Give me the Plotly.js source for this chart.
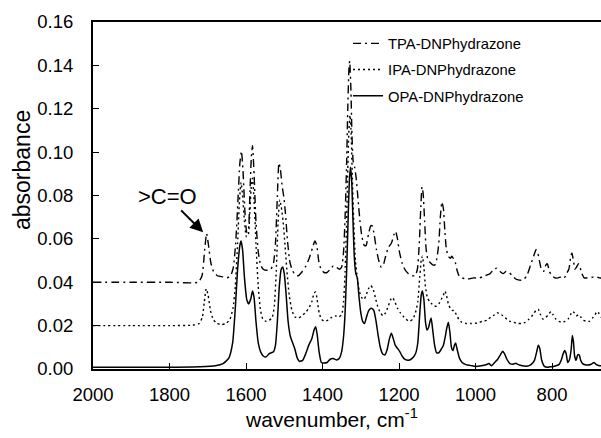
<!DOCTYPE html>
<html>
<head>
<meta charset="utf-8">
<script src="https://cdn.plot.ly/plotly-3.0.1.min.js"></script>
<style>
  html, body { margin: 0; padding: 0; background: #ffffff; }
  #chart { width: 601px; height: 438px; }
</style>
</head>
<body>
<div id="chart"></div>
<script>
// ---- Data (wavenumber, cm-1 ; absorbance) ----
const seriesNames = ["TPA-DNPhydrazone", "IPA-DNPhydrazone", "OPA-DNPhydrazone"];

const tpaX = [2000,1900,1800,1725,1715,1708,1703,1698,1692,1685,1675,1660,1650,1640,1633,1627,1621,1616,1612,1608,1603,1598,1594,1590,1586,1583,1579,1574,1568,1562,1555,1545,1535,1528,1523,1518,1514,1510,1506,1501,1497,1492,1486,1480,1472,1463,1455,1445,1435,1426,1420,1415,1410,1404,1396,1388,1380,1372,1364,1356,1350,1345,1341,1337,1334,1331,1329,1326,1323,1320,1316,1312,1307,1302,1297,1291,1286,1280,1274,1270,1265,1259,1253,1247,1241,1235,1228,1220,1213,1209,1204,1199,1192,1185,1176,1166,1158,1152,1147,1143,1140,1137,1133,1129,1124,1118,1112,1106,1101,1096,1092,1088,1084,1080,1076,1071,1066,1062,1058,1054,1049,1043,1035,1020,1005,990,975,962,952,944,936,928,920,912,904,895,885,876,866,856,848,842,838,833,828,822,816,812,807,800,792,784,776,768,762,756,751,748,744,740,736,731,727,722,716,708,700,692,684,676,670];
const tpaY = [0.040,0.040,0.040,0.040,0.043,0.055,0.0625,0.057,0.049,0.045,0.043,0.0425,0.042,0.043,0.047,0.058,0.078,0.095,0.1005,0.092,0.073,0.063,0.064,0.080,0.098,0.103,0.090,0.068,0.054,0.048,0.046,0.0455,0.046,0.049,0.058,0.080,0.095,0.092,0.085,0.079,0.072,0.060,0.050,0.046,0.0435,0.043,0.0445,0.047,0.051,0.056,0.059,0.057,0.050,0.046,0.0445,0.0445,0.046,0.0475,0.047,0.046,0.047,0.054,0.070,0.095,0.120,0.138,0.142,0.130,0.108,0.096,0.093,0.088,0.078,0.068,0.061,0.057,0.057,0.062,0.066,0.066,0.062,0.055,0.050,0.047,0.048,0.052,0.056,0.058,0.062,0.0635,0.060,0.054,0.049,0.046,0.044,0.043,0.043,0.046,0.058,0.075,0.084,0.081,0.068,0.055,0.050,0.049,0.048,0.048,0.051,0.058,0.070,0.077,0.074,0.063,0.055,0.052,0.051,0.052,0.051,0.050,0.046,0.043,0.042,0.0415,0.042,0.042,0.043,0.044,0.046,0.0465,0.045,0.044,0.045,0.0445,0.043,0.0415,0.041,0.041,0.043,0.048,0.052,0.055,0.054,0.050,0.046,0.045,0.048,0.0485,0.045,0.043,0.042,0.042,0.0425,0.042,0.044,0.046,0.052,0.0535,0.050,0.046,0.047,0.0485,0.047,0.044,0.042,0.042,0.042,0.0425,0.0425,0.042,0.042];

const ipaX = [2000,1900,1800,1740,1722,1714,1709,1704,1699,1693,1686,1676,1664,1652,1642,1634,1628,1622,1617,1613,1609,1604,1599,1594,1590,1586,1583,1579,1574,1568,1562,1556,1548,1540,1532,1526,1521,1516,1512,1508,1503,1498,1493,1487,1480,1472,1463,1454,1445,1436,1428,1422,1418,1414,1409,1403,1395,1385,1375,1366,1358,1350,1345,1341,1337,1334,1331,1328,1325,1322,1318,1314,1309,1304,1298,1292,1286,1280,1274,1268,1262,1256,1249,1242,1235,1228,1222,1217,1211,1204,1197,1190,1182,1173,1164,1157,1151,1146,1142,1139,1135,1131,1126,1120,1114,1108,1102,1096,1090,1084,1080,1076,1071,1066,1061,1056,1050,1044,1036,1025,1010,995,982,970,960,950,944,938,932,925,918,910,900,890,880,870,860,850,842,836,830,824,818,810,803,797,790,782,774,766,758,752,746,742,737,731,725,718,710,702,694,688,682,678,672,668];
const ipaY = [0.020,0.020,0.020,0.0202,0.021,0.024,0.031,0.037,0.034,0.027,0.023,0.021,0.0205,0.021,0.023,0.028,0.038,0.058,0.078,0.086,0.080,0.068,0.061,0.062,0.072,0.085,0.088,0.078,0.058,0.038,0.027,0.023,0.022,0.0225,0.0235,0.029,0.045,0.068,0.078,0.075,0.068,0.057,0.045,0.034,0.027,0.024,0.0235,0.0245,0.026,0.028,0.031,0.035,0.0355,0.032,0.026,0.023,0.022,0.0225,0.024,0.0245,0.024,0.025,0.031,0.045,0.068,0.092,0.110,0.117,0.108,0.088,0.066,0.050,0.042,0.036,0.033,0.032,0.034,0.037,0.0385,0.037,0.033,0.029,0.026,0.0245,0.026,0.029,0.032,0.033,0.031,0.028,0.026,0.0245,0.023,0.022,0.023,0.026,0.031,0.042,0.050,0.052,0.047,0.038,0.033,0.031,0.030,0.029,0.029,0.030,0.032,0.034,0.036,0.034,0.030,0.028,0.027,0.027,0.025,0.023,0.0215,0.021,0.021,0.0212,0.022,0.0225,0.024,0.025,0.026,0.0255,0.025,0.024,0.023,0.022,0.0215,0.021,0.021,0.0215,0.023,0.025,0.027,0.0275,0.025,0.023,0.0235,0.025,0.0265,0.025,0.023,0.022,0.0215,0.022,0.023,0.025,0.0265,0.026,0.0245,0.025,0.024,0.0225,0.022,0.022,0.0235,0.025,0.0265,0.0258,0.024,0.023];

const opaX = [2000,1900,1800,1720,1680,1660,1645,1635,1628,1622,1616,1613,1609,1604,1598,1593,1588,1583,1579,1574,1568,1562,1555,1548,1540,1534,1528,1523,1518,1513,1508,1504,1500,1495,1490,1484,1478,1472,1466,1460,1452,1444,1436,1428,1422,1418,1414,1409,1403,1396,1388,1380,1372,1364,1356,1350,1345,1341,1337,1333,1330,1327,1324,1321,1317,1313,1309,1305,1300,1295,1290,1285,1279,1272,1266,1260,1255,1249,1243,1237,1231,1225,1220,1215,1210,1204,1198,1192,1185,1175,1165,1157,1151,1146,1142,1139,1135,1131,1127,1123,1119,1116,1112,1107,1102,1096,1090,1084,1079,1075,1071,1067,1063,1059,1055,1052,1048,1042,1035,1025,1010,1000,985,972,965,958,950,942,935,929,924,918,910,902,895,888,878,866,855,846,840,836,832,827,820,812,805,798,790,782,776,771,767,763,759,755,750,747,744,741,737,733,729,725,720,714,706,698,690,684,676,670];
const opaY = [0.0008,0.0008,0.0008,0.001,0.0015,0.0025,0.005,0.012,0.028,0.046,0.057,0.059,0.055,0.042,0.032,0.030,0.032,0.036,0.033,0.022,0.012,0.008,0.006,0.0055,0.007,0.0075,0.008,0.011,0.022,0.038,0.046,0.047,0.044,0.034,0.022,0.015,0.012,0.009,0.005,0.0035,0.004,0.007,0.011,0.014,0.018,0.0195,0.016,0.008,0.003,0.0028,0.003,0.0045,0.0048,0.0042,0.005,0.008,0.015,0.026,0.045,0.070,0.086,0.093,0.088,0.072,0.052,0.044,0.042,0.034,0.026,0.022,0.021,0.024,0.027,0.028,0.027,0.022,0.016,0.010,0.007,0.0065,0.009,0.014,0.0165,0.014,0.011,0.0095,0.008,0.006,0.0045,0.004,0.005,0.007,0.012,0.025,0.034,0.036,0.032,0.022,0.018,0.019,0.022,0.0235,0.018,0.011,0.0075,0.0075,0.009,0.011,0.015,0.019,0.0215,0.017,0.010,0.0085,0.011,0.012,0.009,0.005,0.003,0.002,0.0015,0.0012,0.0015,0.002,0.0025,0.0015,0.003,0.0045,0.0065,0.0082,0.007,0.0045,0.0025,0.0022,0.0026,0.002,0.0015,0.0013,0.002,0.004,0.008,0.011,0.0095,0.004,0.0012,0.0008,0.001,0.001,0.0015,0.002,0.004,0.007,0.0085,0.007,0.003,0.004,0.009,0.0155,0.0125,0.006,0.004,0.0065,0.0065,0.004,0.0025,0.002,0.0018,0.0022,0.003,0.002,0.0015,0.0015];

const xTickVals = [2000, 1800, 1600, 1400, 1200, 1000, 800];
const yTickVals = [0.00, 0.02, 0.04, 0.06, 0.08, 0.10, 0.12, 0.14, 0.16];

const FONT = "'Liberation Sans', Arial, Helvetica, sans-serif";

const traces = [
  { x: tpaX, y: tpaY, name: seriesNames[0], legendgroup: "g1", type: "scatter", mode: "lines",
    line: { color: "#000", width: 1.4, dash: "8px,4px,2px,4px", shape: "spline", smoothing: 0.5 } },
  { x: ipaX, y: ipaY, name: seriesNames[1], legendgroup: "g2", type: "scatter", mode: "lines",
    line: { color: "#000", width: 1.4, dash: "2px,3px", shape: "spline", smoothing: 0.5 } },
  { x: opaX, y: opaY, name: seriesNames[2], legendgroup: "g3", type: "scatter", mode: "lines",
    line: { color: "#000", width: 1.5, shape: "spline", smoothing: 0.5 } }
];

const layout = {
  width: 601, height: 438,
  margin: { l: 93, r: 0, t: 22, b: 69, pad: 0 },
  paper_bgcolor: "#fff", plot_bgcolor: "#fff",
  font: { family: FONT, color: "#000", size: 18 },
  showlegend: true,
  legend: {
    x: 0.502, xanchor: "left", y: 0.985, yanchor: "top",
    bgcolor: "rgba(0,0,0,0)", borderwidth: 0,
    font: { family: FONT, size: 14.8, color: "#000" },
    traceorder: "grouped", tracegroupgap: 4, itemwidth: 30
  },
  xaxis: {
    range: [2000, 672], autorange: false,
    tickvals: xTickVals, ticktext: xTickVals.map(String),
    ticks: "inside", ticklen: 6, tickwidth: 1, tickcolor: "#000",
    showline: true, linecolor: "#000", linewidth: 2, mirror: true,
    showgrid: false, zeroline: false,
    tickfont: { family: FONT, size: 18.5, color: "#000" },
    ticklabelstandoff: 8,
    automargin: false
  },
  yaxis: {
    range: [0, 0.16], autorange: false,
    tickvals: yTickVals, ticktext: yTickVals.map(v => v.toFixed(2)),
    ticks: "inside", ticklen: 6, tickwidth: 1, tickcolor: "#000",
    showline: true, linecolor: "#000", linewidth: 2,
    showgrid: false, zeroline: false,
    tickfont: { family: FONT, size: 18.5, color: "#000" },
    ticklabelstandoff: 14,
    automargin: false
  },
  annotations: [
    {
      x: 1712, y: 0.063, xref: "x", yref: "y",
      text: ">C=O", showarrow: true, arrowhead: 2, arrowsize: 1.3, arrowwidth: 2, arrowcolor: "#000",
      ax: -36, ay: -36,
      font: { family: FONT, size: 22, color: "#000" }
    },
    {
      xref: "paper", yref: "paper",
      x: (331 - 93) / 508, y: -(418 - 369) / 347,
      xanchor: "center", yanchor: "middle", showarrow: false,
      text: "wavenumber, cm<sup>-1</sup>",
      font: { family: FONT, size: 21, color: "#000" }
    },
    {
      xref: "paper", yref: "paper",
      x: -(93 - 22) / 508, y: (369 - 170) / 347,
      xanchor: "center", yanchor: "middle", showarrow: false, textangle: -90,
      text: "absorbance",
      font: { family: FONT, size: 23, color: "#000" }
    }
  ]
};

Plotly.newPlot("chart", traces, layout, { staticPlot: true, displayModeBar: false });
</script>
</body>
</html>
